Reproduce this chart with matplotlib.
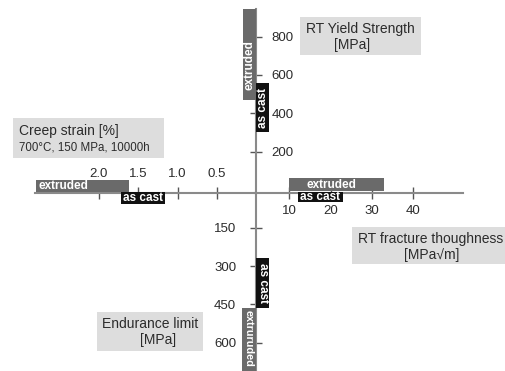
import matplotlib
matplotlib.use("Agg")
import matplotlib.pyplot as plt
from matplotlib.patches import Rectangle

plt.rcParams['font.family'] = ['Liberation Sans', 'DejaVu Sans']

# values
fracture_ticks = [10, 20, 30, 40]
fracture_labels = ['10', '20', '30', '40']
fracture_extruded = (10, 33)
fracture_ascast = (12, 23)

creep_ticks = [0.5, 1.0, 1.5, 2.0]
creep_labels = ['0.5', '1.0', '1.5', '2.0']
creep_extruded = (1.62, 2.8)
creep_ascast = (1.16, 1.72)

yield_ticks = [200, 400, 600, 800]
yield_labels = ['200', '400', '600', '800']
yield_extruded = (470, 950)
yield_ascast = (300, 560)

endurance_ticks = [150, 300, 450, 600]
endurance_labels = ['150', '300', '450', '600']
endurance_extruded = (465, 750)
endurance_ascast = (270, 465)

# colours
AXIS_C = '#8a8a8a'
TICK_C = '#555555'
TXT_C = '#2b2b2b'
EXT_C = '#6a6a6a'
CAST_C = '#111111'
BOX_C = '#dddddd'

W, H = 505, 371
fig = plt.figure(figsize=(W / 100, H / 100), dpi=100)
fig.patch.set_facecolor('white')


def add_ax(x0, y0, x1, y1):
    # pixel box (top-down y) -> figure axes
    ax = fig.add_axes([x0 / W, 1 - y1 / H, (x1 - x0) / W, (y1 - y0) / H])
    ax.patch.set_visible(False)
    for s in ax.spines.values():
        s.set_visible(False)
    return ax


def bar_text(ax, x, y, s, rot=0, ha='center', va='center', dx=0, dy=0, size=8.5):
    ax.annotate(s, (x, y), xytext=(dx, dy), textcoords='offset points',
                rotation=rot, ha=ha, va=va, color='white', fontsize=size,
                fontweight='bold', zorder=5, annotation_clip=False)


# background boxes with axis titles
bg = add_ax(0, 0, W, H)
bg.set_xlim(0, W)
bg.set_ylim(H, 0)
bg.set_xticks([])
bg.set_yticks([])

bg.add_patch(Rectangle((300, 17), 121, 38, color=BOX_C, lw=0))
bg.text(360.5, 28.5, 'RT Yield Strength', ha='center', va='center', fontsize=10, color=TXT_C)
bg.text(352, 45, '[MPa]', ha='center', va='center', fontsize=10, color=TXT_C)

bg.add_patch(Rectangle((13, 118), 151, 40, color=BOX_C, lw=0))
bg.text(19, 131, 'Creep strain [%]', ha='left', va='center', fontsize=10, color=TXT_C)
bg.text(19, 148, '700°C, 150 MPa, 10000h', ha='left', va='center', fontsize=8.3, color=TXT_C)

bg.add_patch(Rectangle((352, 227), 153, 37, color=BOX_C, lw=0))
bg.text(430.5, 238.5, 'RT fracture thoughness', ha='center', va='center', fontsize=10, color=TXT_C)
bg.text(432, 255, '[MPa√m]', ha='center', va='center', fontsize=10, color=TXT_C)

bg.add_patch(Rectangle((97, 312), 106, 39, color=BOX_C, lw=0))
bg.text(150, 324, 'Endurance limit', ha='center', va='center', fontsize=10, color=TXT_C)
bg.text(158, 340, '[MPa]', ha='center', va='center', fontsize=10, color=TXT_C)

tick_kw = dict(direction='inout', length=8.6, width=1.0, color=TICK_C,
               labelsize=9.5, labelcolor=TXT_C)

# right arm: fracture toughness
f0, fs = 248, 4.13
ax = add_ax(255, 170, 463, 215)
ax.set_xlim((255 - f0) / fs, (463 - f0) / fs)
ax.set_ylim(-22.5, 22.5)
ax.spines['bottom'].set_visible(True)
ax.spines['bottom'].set_position(('data', 0))
ax.spines['bottom'].set_color(AXIS_C)
ax.spines['bottom'].set_linewidth(1.5)
ax.yaxis.set_visible(False)
ax.set_xticks(fracture_ticks, fracture_labels)
ax.tick_params(axis='x', pad=5, **tick_kw)
lo, hi = fracture_extruded
ax.barh(8, hi - lo, left=lo, height=13, color=EXT_C, zorder=3)
bar_text(ax, (lo + hi) / 2, 8, 'extruded', dx=-4)
lo, hi = fracture_ascast
ax.barh(-4.5, hi - lo, left=lo, height=10, color=CAST_C, zorder=3)
bar_text(ax, (lo + hi) / 2, -4.5, 'as cast')

# left arm: creep strain
c0, cs = 256, 78.5
ax = add_ax(35, 170, 256, 215)
ax.set_xlim((c0 - 35) / cs, (c0 - 256) / cs)
ax.set_ylim(-22.5, 22.5)
ax.spines['top'].set_visible(True)
ax.spines['top'].set_position(('data', 0))
ax.spines['top'].set_color(AXIS_C)
ax.spines['top'].set_linewidth(1.5)
ax.yaxis.set_visible(False)
ax.xaxis.set_ticks_position('top')
ax.set_xticks(creep_ticks, creep_labels)
ax.tick_params(axis='x', pad=4.5, **tick_kw)
lo, hi = creep_extruded
ax.barh(6.5, hi - lo, left=lo, height=12, color=EXT_C, zorder=3)
bar_text(ax, hi, 6.5, 'extruded', ha='left', dx=2)
lo, hi = creep_ascast
ax.barh(-5.5, hi - lo, left=lo, height=12, color=CAST_C, zorder=3)
bar_text(ax, (lo + hi) / 2, -5.5, 'as cast')

# top arm: yield strength
y0, ys = 190, 0.1917
ax = add_ax(235, 9, 280, 192.5)
ax.set_xlim(-21, 24)
ax.set_ylim((y0 - 192.5) / ys, (y0 - 9) / ys)
ax.spines['right'].set_visible(True)
ax.spines['right'].set_position(('data', 0))
ax.spines['right'].set_color(AXIS_C)
ax.spines['right'].set_linewidth(1.5)
ax.xaxis.set_visible(False)
ax.yaxis.set_ticks_position('right')
ax.set_yticks(yield_ticks, yield_labels)
ax.tick_params(axis='y', pad=7, **tick_kw)
lo, hi = yield_extruded
ax.bar(-6.5, hi - lo, bottom=lo, width=13, color=EXT_C, zorder=3)
bar_text(ax, -6.5, lo, 'extruded', rot=90, va='bottom', dy=7)
lo, hi = yield_ascast
ax.bar(6.5, hi - lo, bottom=lo, width=13, color=CAST_C, zorder=3)
bar_text(ax, 6.5, (lo + hi) / 2, 'as cast', rot=90)

# bottom arm: endurance limit
e0, es = 189.4, 0.2556
ax = add_ax(235, 192.5, 280, 371)
ax.set_xlim(-21, 24)
ax.set_ylim((371 - e0) / es, (192.5 - e0) / es)
ax.spines['left'].set_visible(True)
ax.spines['left'].set_position(('data', 0))
ax.spines['left'].set_color(AXIS_C)
ax.spines['left'].set_linewidth(1.5)
ax.xaxis.set_visible(False)
ax.set_yticks(endurance_ticks, endurance_labels)
ax.tick_params(axis='y', pad=10, **tick_kw)
lo, hi = endurance_ascast
ax.bar(6.5, hi - lo, bottom=lo, width=13, color=CAST_C, zorder=3)
bar_text(ax, 6.5, (lo + hi) / 2, 'as cast', rot=-90)
lo, hi = endurance_extruded
ax.bar(-7, hi - lo, bottom=lo, width=14, color=EXT_C, zorder=3)
bar_text(ax, -7, lo, 'extruruded', rot=-90, va='top', dy=-1.5, size=7.8)

fig.savefig('out.png', dpi=100)
